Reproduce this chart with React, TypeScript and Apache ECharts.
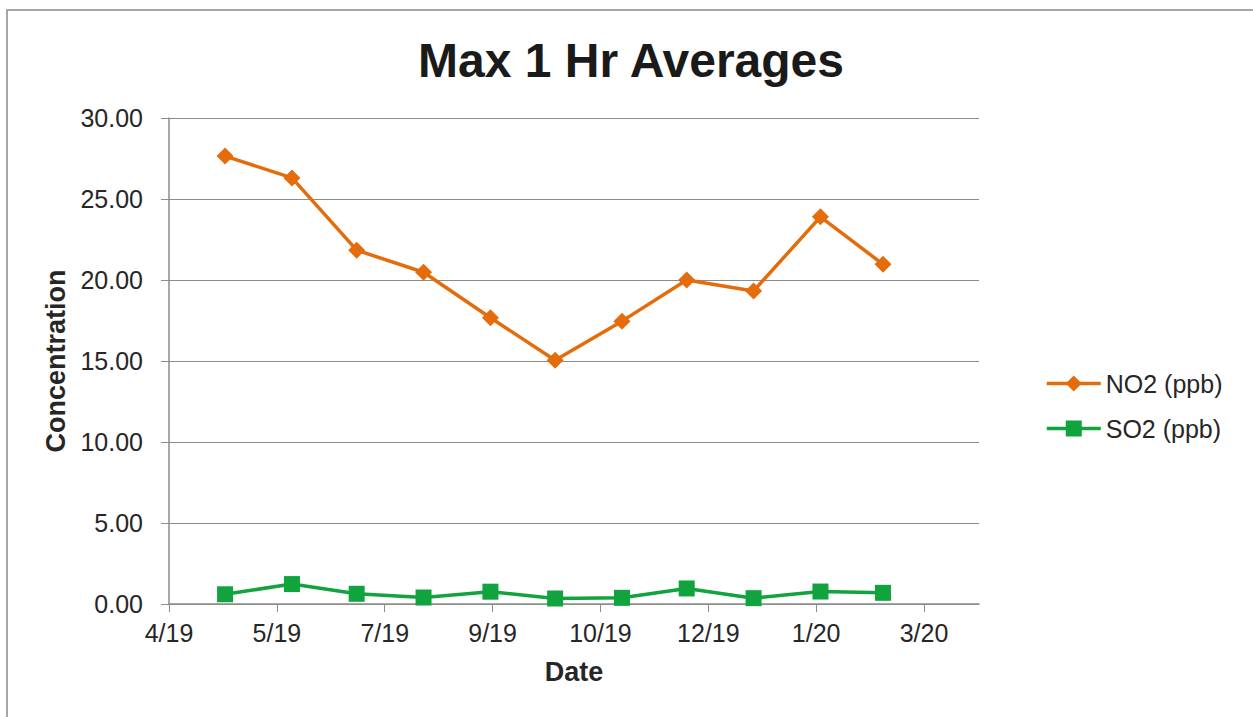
import React, { useEffect, useRef } from "react";
import * as echarts from "echarts";

const monthDates = [
  "2019-05-01", "2019-06-01", "2019-07-01", "2019-08-01", "2019-09-01", "2019-10-01",
  "2019-11-01", "2019-12-01", "2020-01-01", "2020-02-01", "2020-03-01",
];
const no2Values = [27.65, 26.3, 21.84, 20.48, 17.67, 15.05, 17.46, 20.0, 19.32, 23.9, 20.97];
const so2Values = [0.6, 1.23, 0.63, 0.4, 0.76, 0.34, 0.38, 0.96, 0.36, 0.77, 0.69];
const xTickLabels = ["4/19", "5/19", "7/19", "9/19", "10/19", "12/19", "1/20", "3/20"];
const axisStartDate = "2019-04-05";
const tickIntervalDays = 50;
const axisSpanDays = 375.5;

const DAY = 86400000;
const toDays = (d: string) => (Date.parse(d) - Date.parse(axisStartDate)) / DAY;

export default function App() {
  const ref = useRef<HTMLDivElement>(null);
  useEffect(() => {
    if (!ref.current) return;
    const chart = echarts.init(ref.current, null, { renderer: "svg" });
    const font = "'Liberation Sans', Arial, sans-serif";
    const tickValues = xTickLabels.map((_, i) => i * tickIntervalDays);
    chart.setOption({
      animation: false,
      backgroundColor: "#ffffff",
      textStyle: { fontFamily: font },
      title: {
        text: "Max 1 Hr Averages",
        left: 626,
        textAlign: "center",
        top: 31,
        textStyle: { fontFamily: font, fontSize: 48, fontWeight: "bold", color: "#1a1a1a" },
      },
      graphic: [
        {
          type: "rect",
          shape: { x: 7, y: 10, width: 1270, height: 730 },
          style: { fill: "none", stroke: "#a6a6a6", lineWidth: 2 },
          silent: true,
        },
      ],
      legend: {
        orient: "vertical",
        left: 1040,
        top: 366,
        itemWidth: 54,
        itemHeight: 20,
        itemGap: 20,
        lineStyle: { width: 3.5 },
        textStyle: { fontFamily: font, fontSize: 25, color: "#262626" },
        data: ["NO2 (ppb)", "SO2 (ppb)"],
      },
      grid: { left: 169, right: 274, top: 118, bottom: 113, containLabel: false },
      xAxis: {
        type: "value",
        min: 0,
        max: axisSpanDays,
        interval: tickIntervalDays,
        name: "Date",
        nameLocation: "middle",
        nameGap: 54,
        nameTextStyle: { fontFamily: font, fontSize: 27, fontWeight: "bold", color: "#262626" },
        axisLine: { show: true, lineStyle: { color: "#8c8c8c", width: 1.5 } },
        axisTick: { show: true, length: 8, customValues: tickValues, lineStyle: { color: "#8c8c8c" } },
        axisLabel: {
          customValues: tickValues,
          margin: 16,
          fontFamily: font,
          fontSize: 25,
          color: "#262626",
          formatter: (v: number) => xTickLabels[Math.round(v / tickIntervalDays)] ?? "",
        },
        splitLine: { show: false },
      },
      yAxis: {
        type: "value",
        min: 0,
        max: 30,
        interval: 5,
        name: "Concentration",
        nameLocation: "middle",
        nameGap: 99,
        nameRotate: 90,
        nameTextStyle: { fontFamily: font, fontSize: 27, fontWeight: "bold", color: "#262626" },
        axisLine: { show: true, lineStyle: { color: "#8c8c8c", width: 1.5 } },
        axisTick: { show: true, length: 8, lineStyle: { color: "#8c8c8c" } },
        axisLabel: {
          margin: 26,
          fontFamily: font,
          fontSize: 25,
          color: "#262626",
          formatter: (v: number) => v.toFixed(2),
        },
        splitLine: { show: true, lineStyle: { color: "#8c8c8c", width: 1.2 } },
      },
      series: [
        {
          name: "NO2 (ppb)",
          type: "line",
          data: monthDates.map((d, i) => [toDays(d), no2Values[i]]),
          symbol: "diamond",
          symbolSize: 17,
          lineStyle: { color: "#E46C0A", width: 3.5 },
          itemStyle: { color: "#E46C0A" },
        },
        {
          name: "SO2 (ppb)",
          type: "line",
          data: monthDates.map((d, i) => [toDays(d), so2Values[i]]),
          symbol: "rect",
          symbolSize: 16,
          lineStyle: { color: "#10A33E", width: 3.5 },
          itemStyle: { color: "#10A33E" },
        },
      ],
    });
    return () => chart.dispose();
  }, []);
  return (
    <div
      ref={ref}
      style={{ position: "fixed", left: 0, top: 0, width: 1253, height: 717 }}
    />
  );
}
